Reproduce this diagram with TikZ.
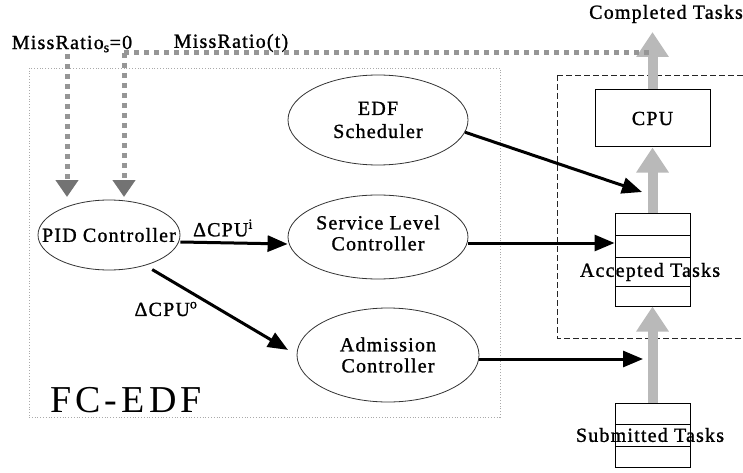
\documentclass[tikz,border=0pt]{standalone}
\usepackage{fontspec}
\setmainfont{Liberation Serif}
\usetikzlibrary{shapes.geometric,arrows.meta}
\definecolor{dotgray}{RGB}{150,150,150}
\definecolor{headgray}{RGB}{115,115,115}
\definecolor{biggray}{RGB}{185,185,185}
\definecolor{boxgray}{RGB}{170,170,170}
\newcommand{\lblfont}{\fontsize{20}{21}\selectfont\addfontfeature{LetterSpace=6,FakeBold=1.2}}
\tikzset{
  txt/.style={inner sep=0pt, font=\lblfont},
  ell/.style={ellipse, draw=black!80, line width=0.8pt, inner sep=0pt},
  elltxt/.style={inner sep=0pt, align=center, font=\lblfont},
  rbox/.style={rectangle, draw=black, line width=1pt, inner sep=0pt},
  blk/.style={line width=3pt, -{Triangle[length=20pt,width=16pt]}},
  bigarrow/.style={line width=10pt, draw=biggray, -{Triangle[length=25pt,width=31pt,fill=biggray]}},
  dotline/.style={line width=5pt, draw=dotgray, dash pattern=on 5pt off 5pt},
  dotarrow/.style={dotline, -{Triangle[length=17pt,width=22pt,color=headgray]}},
  fcbox/.style={rectangle, draw=boxgray, line width=0.8pt, dotted, inner sep=0pt},
  dbox/.style={draw=black!85, line width=0.8pt, dash pattern=on 6pt off 3pt}
}
\begin{document}
\begin{tikzpicture}[x=1pt,y=-1pt]
\useasboundingbox (0,0) rectangle (743,473);
\clip (0,0) rectangle (743,473);
\fill[white] (0,0) rectangle (743,473);

% frames
\node[fcbox, minimum width=471pt, minimum height=349pt] (fc) at (264.5,242.5) {};
\draw[dbox] (557,75) -- (760,75) (557,75) -- (557,338) -- (760,338);

% texts at top
\node[txt] (ms) at (72,44) {MissRatio\textsubscript{s}=0};
\node[txt] (mt) at (231,43) {MissRatio(t)};
\node[txt] (ct) at (666,14) {Completed Tasks};
\node[inner sep=0pt, font=\fontsize{38}{40}\selectfont\addfontfeature{LetterSpace=11}] (fcl) at (126,400) {FC-EDF};

% ellipses
\node[ell, minimum width=142pt, minimum height=70pt] (pid) at (109,235) {};
\node[elltxt] (pidl) at (pid.center) {PID Controller};
\node[ell, minimum width=180pt, minimum height=90pt] (edf) at (378,120) {};
\node[elltxt, font=\lblfont\fontsize{20}{23}\selectfont] (edfl) at (edf.center) {EDF\\Scheduler};
\node[ell, minimum width=180pt, minimum height=84pt] (slc) at (378,237) {};
\node[elltxt] (slcl) at ([yshift=4pt]slc.center) {Service Level\\Controller};
\node[ell, minimum width=182pt, minimum height=94pt] (adm) at (388,355) {};
\node[elltxt] (adml) at (adm.center) {Admission\\Controller};

% CPU and queues
\node[rbox, minimum width=115pt, minimum height=57pt, txt] (cpu) at (652.5,118.5) {CPU};
\node[rbox, minimum width=75pt, minimum height=93pt] (acc) at (652.5,259.5) {};
\draw[line width=1pt] (615,235) -- (690,235) (615,257) -- (690,257) (615,286) -- (690,286);
\node[txt] (accl) at (650,272) {Accepted Tasks};
\node[rbox, minimum width=75pt, minimum height=64pt] (sub) at (652.5,435) {};
\draw[line width=1pt] (615,424) -- (690,424) (615,446) -- (690,446);
\node[txt] (subl) at (650,435) {Submitted Tasks};

% grey flow arrows
\coordinate (ctend) at (652.5,32);
\draw[bigarrow] (cpu.north) -- (ctend);
\draw[bigarrow] (acc.north) -- (cpu.south);
\draw[bigarrow] (sub.north) -- (acc.south);

% dotted feedback lines
\coordinate (fb) at (649,53);
\coordinate (c1) at (124,53);
\coordinate (c1end) at (124,197);
\coordinate (c0) at (67,54);
\coordinate (c0end) at (67,197);
\draw[dotline] (fb) -- (c1);
\draw[dotarrow] (c1) -- (c1end);
\draw[dotarrow] (c0) -- (c0end);

% black arrows
\coordinate (edfin) at (642,192);
\coordinate (subin) at (643,359);
\draw[blk] ([yshift=-7pt]pid.east) -- ([yshift=-7pt]slc.west);
\draw[blk, shorten <=8pt, shorten >=10pt] (pid.-40) -- (adm.west);
\draw[blk] (edf.-8) -- (edfin);
\draw[blk] ([yshift=-6pt]slc.east) -- ([yshift=16.5pt]acc.west);
\draw[blk] ([yshift=-4pt]adm.east) -- (subin);

% labels
\node[txt] (dci) at (223,228) {ΔCPU\textsuperscript{i}};
\node[txt] (dco) at (166,309) {ΔCPU\textsuperscript{o}};
\end{tikzpicture}
\end{document}
